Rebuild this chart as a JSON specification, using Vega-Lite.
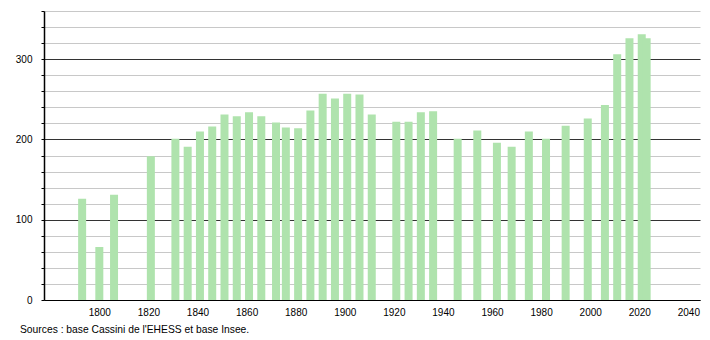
{
  "$schema": "https://vega.github.io/schema/vega-lite/v6.json",
  "width": 656,
  "height": 289,
  "autosize": "none",
  "padding": {"left": 44, "top": 11, "right": 10, "bottom": 40},
  "background": "white",
  "config": {
    "view": {"stroke": null},
    "font": "Liberation Sans"
  },
  "title": {
    "text": "Sources : base Cassini de l'EHESS et base Insee.",
    "orient": "bottom",
    "anchor": "start",
    "frame": "group",
    "dx": -24,
    "offset": 8,
    "fontSize": 10.3,
    "fontWeight": "normal",
    "font": "Liberation Sans",
    "color": "#000"
  },
  "data": {
    "values": [
      {"year": 1793, "pop": 126},
      {"year": 1800, "pop": 66},
      {"year": 1806, "pop": 131},
      {"year": 1821, "pop": 179},
      {"year": 1831, "pop": 201},
      {"year": 1836, "pop": 191},
      {"year": 1841, "pop": 210},
      {"year": 1846, "pop": 216},
      {"year": 1851, "pop": 231},
      {"year": 1856, "pop": 229},
      {"year": 1861, "pop": 234},
      {"year": 1866, "pop": 229},
      {"year": 1872, "pop": 221},
      {"year": 1876, "pop": 215},
      {"year": 1881, "pop": 214},
      {"year": 1886, "pop": 236},
      {"year": 1891, "pop": 257},
      {"year": 1896, "pop": 251},
      {"year": 1901, "pop": 257},
      {"year": 1906, "pop": 256},
      {"year": 1911, "pop": 231},
      {"year": 1921, "pop": 222},
      {"year": 1926, "pop": 222},
      {"year": 1931, "pop": 234},
      {"year": 1936, "pop": 235},
      {"year": 1946, "pop": 201},
      {"year": 1954, "pop": 211},
      {"year": 1962, "pop": 196},
      {"year": 1968, "pop": 191},
      {"year": 1975, "pop": 210},
      {"year": 1982, "pop": 201},
      {"year": 1990, "pop": 217},
      {"year": 1999, "pop": 226},
      {"year": 2006, "pop": 243},
      {"year": 2011, "pop": 306},
      {"year": 2016, "pop": 326},
      {"year": 2021, "pop": 331},
      {"year": 2023, "pop": 326}
    ]
  },
  "mark": {"type": "bar", "width": 8, "color": "#afe3ad", "cornerRadius": 0},
  "encoding": {
    "x": {
      "field": "year",
      "type": "quantitative",
      "scale": {"domain": [1779.5, 2042.7], "nice": false, "zero": false},
      "axis": {
        "title": null,
        "values": [1800, 1820, 1840, 1860, 1880, 1900, 1920, 1940, 1960, 1980, 2000, 2020, 2040],
        "format": "d",
        "grid": false,
        "ticks": false,
        "domainColor": "#000",
        "domainWidth": 1,
        "labelFontSize": 10,
        "labelColor": "#000",
        "labelPadding": 7,
        "labelFont": "Liberation Sans"
      }
    },
    "y": {
      "field": "pop",
      "type": "quantitative",
      "scale": {"domain": [0, 360], "nice": false},
      "axis": {
        "title": null,
        "values": [0, 20, 40, 60, 80, 100, 120, 140, 160, 180, 200, 220, 240, 260, 280, 300, 320, 340, 360],
        "labelExpr": "datum.value % 100 === 0 ? datum.label : ''",
        "grid": true,
        "gridColor": {"condition": {"test": "datum.value % 100 === 0", "value": "#333333"}, "value": "#c8c8c8"},
        "gridWidth": 1,
        "ticks": true,
        "tickSize": 3,
        "tickColor": "#000",
        "domainColor": "#000",
        "domainWidth": 1.5,
        "labelFontSize": 10,
        "labelColor": "#000",
        "labelPadding": 9,
        "labelFont": "Liberation Sans"
      }
    }
  }
}
